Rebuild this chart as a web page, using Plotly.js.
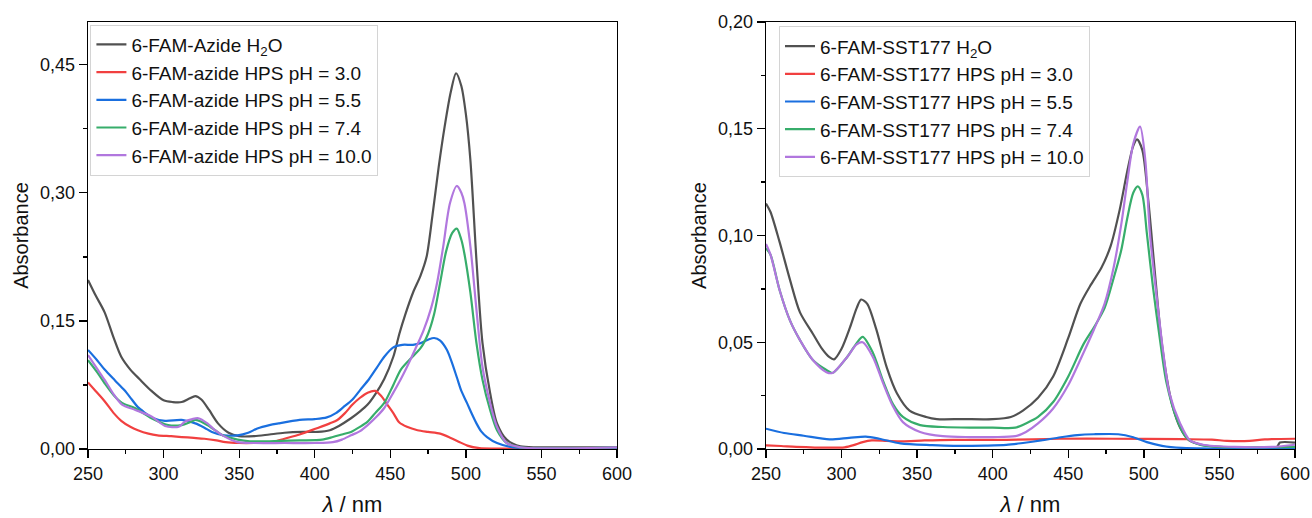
<!DOCTYPE html>
<html>
<head>
<meta charset="utf-8">
<script src="https://cdn.plot.ly/plotly-3.0.1.min.js"></script>
<style>html,body{margin:0;padding:0;background:#fff;}#chart{width:1312px;height:518px;}</style>
</head>
<body>
<div id="chart"></div>
<script>
// ---------- Left panel: 6-FAM-azide ----------
const azH2O_x = [250,255,261,267,272,278,284,292,300,306,312,317,321,325,330,336,343,350,360,370,380,392,402,410,416,424,430,435,440,446,452,456,460,465,470,474,478,482,486,490,493.5,497,500,503,507,511,516,520.6,527,536,550,600];
const azH2O_y = [0.198,0.180,0.160,0.130,0.108,0.093,0.082,0.068,0.057,0.055,0.055,0.059,0.062,0.058,0.046,0.030,0.019,0.015,0.015,0.017,0.019,0.020,0.020,0.022,0.027,0.036,0.044,0.052,0.064,0.082,0.108,0.135,0.158,0.183,0.203,0.225,0.275,0.330,0.378,0.418,0.440,0.425,0.392,0.338,0.221,0.124,0.066,0.030,0.011,0.003,0.002,0.002];

const az30_x = [250,255,261,267,272,278,283,290,296,305,312,320,327,335,341,350,360,372,380,390,401,410,415,420,425,430,435,440,444,448,452,456,461,468,475,483,490,496,501,509,520,600];
const az30_y = [0.078,0.068,0.056,0.042,0.033,0.026,0.022,0.018,0.016,0.015,0.014,0.013,0.012,0.010,0.008,0.007,0.007,0.008,0.012,0.017,0.024,0.030,0.034,0.042,0.052,0.060,0.066,0.068,0.062,0.052,0.042,0.031,0.026,0.022,0.020,0.018,0.013,0.008,0.004,0.001,0.0005,0.0005];

const az55_x = [250,256,261,268,274,279,283,288,292,301,312,321,327,332,340,349,356,362,370,376,390,400,408,414,419,425,430,436,441,446,452,458,465,470,475,479,483,487.5,491,494,497,500.7,504,507,510,514,520.6,531,545,600];
const az55_y = [0.116,0.104,0.093,0.080,0.069,0.058,0.049,0.042,0.037,0.033,0.034,0.030,0.025,0.020,0.016,0.016,0.019,0.024,0.028,0.030,0.034,0.035,0.037,0.042,0.049,0.058,0.069,0.082,0.095,0.108,0.119,0.122,0.122,0.124,0.128,0.130,0.127,0.116,0.100,0.084,0.068,0.054,0.041,0.030,0.021,0.014,0.007,0.002,0.001,0.001];

const az74_x = [250,256,261,267,272.5,281,292,303,312,317,321,325,329,334,339,349,357,370,390,405,412,418,424,430,435,440,446,452,457,463,470,475,479,483,487,491,494,497,499,503,507,511,516,520.6,527,536,600];
const az74_y = [0.104,0.090,0.077,0.063,0.054,0.048,0.036,0.028,0.028,0.031,0.034,0.032,0.028,0.022,0.016,0.011,0.009,0.009,0.010,0.011,0.014,0.017,0.020,0.026,0.032,0.042,0.054,0.075,0.093,0.105,0.118,0.135,0.158,0.195,0.232,0.253,0.258,0.245,0.229,0.183,0.124,0.081,0.046,0.022,0.007,0.002,0.002];

const az100_x = [250,256,261,267,272.5,281,292,301,310,314,319,323,329,334,339,349,360,380,400,412,418,424,430,435,441,446,452,457,461,466,472,477,481,485,489.5,494,497,499,503,507,511,516,520.6,527,536,600];
const az100_y = [0.110,0.094,0.081,0.064,0.052,0.046,0.038,0.027,0.026,0.032,0.035,0.036,0.030,0.022,0.016,0.008,0.007,0.007,0.007,0.008,0.011,0.016,0.021,0.028,0.038,0.048,0.066,0.082,0.096,0.115,0.139,0.165,0.195,0.237,0.288,0.308,0.300,0.288,0.237,0.163,0.096,0.054,0.026,0.007,0.002,0.002];

// ---------- Right panel: 6-FAM-SST177 ----------
const sH2O_x = [250,253,259,266,272.5,281,287,292,295,300,305.6,310,313,317,323,330,336.7,345,356,363,380,400,412,420,430,440,450,458,465,472,478,484,489,493,495.5,499,503,507,511,515,519,524,530,538,550,588,590,600];
const sH2O_y = [0.115,0.111,0.097,0.079,0.064,0.054,0.047,0.043,0.042,0.047,0.057,0.066,0.070,0.068,0.056,0.038,0.026,0.018,0.015,0.014,0.014,0.014,0.015,0.018,0.024,0.034,0.052,0.068,0.077,0.085,0.095,0.112,0.130,0.142,0.145,0.140,0.116,0.085,0.055,0.034,0.020,0.010,0.004,0.002,0.001,0.001,0.003,0.003];

const s30_x = [250,260,270,292,302,308,314,320,330,340,355,374,409,444,479,525,545,555,570,580,600];
const s30_y = [0.0017,0.0014,0.0010,0.0006,0.0008,0.0018,0.0032,0.0040,0.0038,0.0036,0.0040,0.0043,0.0043,0.0048,0.0048,0.0046,0.0044,0.0038,0.0038,0.0045,0.0048];

const s55_x = [250,262,275,292,305,316,325,339,360,374,395,409,420,432,445,456,467,483,493,502,512,525,550,600];
const s55_y = [0.0095,0.0075,0.0062,0.0045,0.0052,0.0058,0.0048,0.0026,0.0018,0.0015,0.0016,0.0019,0.0028,0.0040,0.0055,0.0065,0.0069,0.0069,0.0055,0.0032,0.0015,0.0005,0.0002,0.0002];

const s74_x = [250,253,259,266,272.5,281,290,294,303.6,310,314,320.8,327.4,334,340.6,352,367,385,400,415,422,430,440,450,460,467,474,480,485,489,493,496,499,502,506,510.7,515,522,528.5,537,550,600];
const s74_y = [0.094,0.091,0.0745,0.060,0.051,0.0417,0.037,0.0356,0.043,0.0496,0.0525,0.045,0.032,0.021,0.015,0.0112,0.0103,0.010,0.010,0.010,0.012,0.015,0.022,0.034,0.049,0.057,0.066,0.080,0.093,0.108,0.120,0.123,0.119,0.101,0.076,0.051,0.031,0.0136,0.005,0.002,0.001,0.001];

const s100_x = [250,253,259,266,272.5,281,290,294,303.6,310,314,320.8,327.4,334,340.6,352,367,385,400,415,422,430,440,450,460,467,474,480,485,489,493,497.5,501,504,508.7,512.7,517,524,530.5,539,560,585,600];
const s100_y = [0.096,0.091,0.0745,0.060,0.051,0.0417,0.036,0.0356,0.043,0.049,0.050,0.043,0.031,0.020,0.0126,0.008,0.006,0.0056,0.0056,0.006,0.008,0.012,0.019,0.030,0.045,0.056,0.068,0.085,0.105,0.125,0.143,0.151,0.135,0.101,0.070,0.046,0.026,0.012,0.004,0.002,0.001,0.001,0.002];

const leftNames = ['6-FAM-Azide H<sub>2</sub>O','6-FAM-azide HPS pH = 3.0','6-FAM-azide HPS pH = 5.5','6-FAM-azide HPS pH = 7.4','6-FAM-azide HPS pH = 10.0'];
const rightNames = ['6-FAM-SST177 H<sub>2</sub>O','6-FAM-SST177 HPS pH = 3.0','6-FAM-SST177 HPS pH = 5.5','6-FAM-SST177 HPS pH = 7.4','6-FAM-SST177 HPS pH = 10.0'];
const colors = ['#515151','#F14040','#1A6FDF','#37AD6B','#B177DE'];
const xTicks = [250,300,350,400,450,500,550,600];

const leftData = [[azH2O_x,azH2O_y],[az30_x,az30_y],[az55_x,az55_y],[az74_x,az74_y],[az100_x,az100_y]];
const rightData = [[sH2O_x,sH2O_y],[s30_x,s30_y],[s55_x,s55_y],[s74_x,s74_y],[s100_x,s100_y]];

const traces = [];
leftData.forEach((d,i)=>traces.push({x:d[0],y:d[1],name:leftNames[i],type:'scatter',mode:'lines',
  line:{color:colors[i],width:2.2,shape:'spline',smoothing:0.8},xaxis:'x',yaxis:'y',legend:'legend'}));
rightData.forEach((d,i)=>traces.push({x:d[0],y:d[1],name:rightNames[i],type:'scatter',mode:'lines',
  line:{color:colors[i],width:2.2,shape:'spline',smoothing:0.8},xaxis:'x2',yaxis:'y2',legend:'legend2'}));

const fontFam = 'Liberation Sans, Arial, sans-serif';
function xax(anchor, domain){
  return {domain:domain, anchor:anchor, range:[250,600], tickvals:xTicks, ticks:'outside', ticklen:8, tickwidth:1.3,
    tickcolor:'#000', showline:true, linecolor:'#000', linewidth:1.3, mirror:true, showgrid:false, zeroline:false,
    minor:{dtick:25, tick0:250, ticks:'outside', ticklen:4, tickwidth:1.3, tickcolor:'#000', showgrid:false},
    tickfont:{family:fontFam,size:18,color:'#111'},
    title:{text:'<i>λ</i> / nm', font:{family:fontFam,size:22,color:'#111'}, standoff:13}};
}
function yax(anchor, range, dtick){
  return {domain:[0,1], anchor:anchor, range:range, dtick:dtick, tick0:0, tickformat:'.2f', ticks:'outside', ticklen:8, tickwidth:1.3,
    tickcolor:'#000', showline:true, linecolor:'#000', linewidth:1.3, mirror:true, showgrid:false, zeroline:false,
    minor:{dtick:dtick/2, ticks:'outside', ticklen:4, tickwidth:1.3, tickcolor:'#000', showgrid:false},
    tickfont:{family:fontFam,size:18,color:'#111'},
    title:{text:'Absorbance', font:{family:fontFam,size:20,color:'#111'}, standoff:6}};
}
const legendBase = {xanchor:'left', yanchor:'top', bgcolor:'#fff', bordercolor:'#d4d4d4', borderwidth:1,
  font:{family:fontFam,size:19,color:'#111'}, tracegroupgap:0};

const layout = {
  width:1312, height:518, paper_bgcolor:'#fff', plot_bgcolor:'#fff', separators:', ',
  margin:{l:88, r:17, t:22, b:69}, showlegend:true,
  xaxis:xax('y',[0,0.4383]), yaxis:yax('x',[0,0.5],0.15),
  xaxis2:xax('y2',[0.5617,1]), yaxis2:yax('x2',[0,0.2],0.05),
  legend:Object.assign({x:0.002, y:0.994}, legendBase),
  legend2:Object.assign({x:0.5725, y:0.990}, legendBase)
};
Plotly.newPlot('chart', traces, layout, {displayModeBar:false, staticPlot:true});
</script>
</body>
</html>
